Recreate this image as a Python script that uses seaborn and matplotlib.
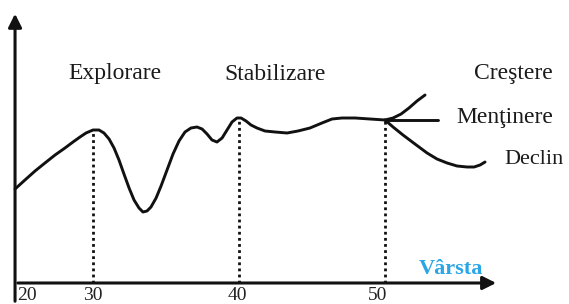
import matplotlib
matplotlib.use("Agg")
import matplotlib.pyplot as plt
import seaborn as sns
import pandas as pd

# career curve (age, level)
age = [24.66, 25.34, 26.03, 26.71, 27.40, 28.08, 28.63, 29.11, 29.52, 30.00,
       30.41, 30.75, 31.10, 31.44, 31.78, 32.12, 32.47, 32.81, 33.15, 33.42,
       33.70, 33.97, 34.32, 34.66, 35.07, 35.48, 35.89, 36.30, 36.71, 37.12,
       37.47, 37.81, 38.15, 38.49, 38.84, 39.18, 39.52, 39.86, 40.14, 40.48,
       40.82, 41.23, 41.78, 42.47, 43.29, 44.04, 44.86, 45.68, 46.37, 47.05,
       47.95, 48.97, 50.00]
level = [9.4, 10.3, 11.2, 12.0, 12.8, 13.5, 14.1, 14.6, 15.0, 15.3,
         15.3, 15.0, 14.4, 13.5, 12.3, 10.9, 9.5, 8.3, 7.5, 7.1,
         7.2, 7.6, 8.5, 9.7, 11.3, 12.9, 14.2, 15.1, 15.5, 15.6,
         15.4, 14.9, 14.3, 14.1, 14.5, 15.3, 16.1, 16.5, 16.5, 16.2,
         15.8, 15.5, 15.2, 15.1, 15.0, 15.2, 15.5, 16.0, 16.4, 16.5,
         16.5, 16.4, 16.3]

# three branches after 50
crestere_age = [50.0, 50.55, 51.10, 51.64, 52.19, 52.74]
crestere_lvl = [16.3, 16.5, 16.9, 17.5, 18.2, 18.8]
mentinere_age = [50.0, 53.6]
mentinere_lvl = [16.3, 16.3]
declin_age = [50.0, 50.55, 51.23, 52.05, 52.88, 53.56, 54.25, 54.93, 55.62,
              56.10, 56.51, 56.85]
declin_lvl = [16.3, 15.6, 14.8, 13.9, 13.0, 12.4, 12.0, 11.7, 11.6,
              11.6, 11.8, 12.1]

# dotted guides (age, level at curve)
guide_age = [30.0, 40.0, 50.0]
guide_top = [15.3, 16.5, 16.3]

tick_pos = [25.5, 30.0, 39.9, 49.5]
tick_lbl = ['20', '30', '40', '50']

stages = ['Explorare', 'Stabilizare', 'Creştere']
stage_x = [31.5, 42.5, 58.8]

sns.set_style("white")
plt.rcParams['font.family'] = ['Liberation Serif', 'DejaVu Serif']

fig = plt.figure(figsize=(5.69, 3.04), dpi=100)
ax = fig.add_axes([0, 0, 1, 1])
ax.set_xlim(23.63, 62.6)
ax.set_ylim(-2.1, 28.3)
ax.axis('off')

line_kw = dict(color='#111111', lw=2.1, sort=False, ax=ax,
               solid_joinstyle='round', solid_capstyle='round')
df = pd.DataFrame({'age': age, 'level': level})
sns.lineplot(data=df, x='age', y='level', **line_kw)
for xs, ys in [(crestere_age, crestere_lvl), (mentinere_age, mentinere_lvl),
               (declin_age, declin_lvl)]:
    sns.lineplot(x=xs, y=ys, **line_kw)

ax.vlines(guide_age, 0, guide_top, colors='#111111', linestyles=(0, (1, 1.2)), lw=2)

# axes with arrow heads
ax.annotate('', xy=(24.66, 27.2), xytext=(24.66, -2.1),
            arrowprops=dict(arrowstyle='-|>', lw=2.2, color='#111111', mutation_scale=20))
ax.annotate('', xy=(57.8, 0), xytext=(24.66, 0),
            arrowprops=dict(arrowstyle='-|>', lw=2.2, color='#111111', mutation_scale=20))

for p, t in zip(tick_pos, tick_lbl):
    ax.text(p, -1.3, t, ha='center', va='center', fontsize=14, color='#222222')

for x, t in zip(stage_x, stages):
    ax.text(x, 20.9, t, ha='center', va='center', fontsize=17, color='#1a1a1a')
ax.text(54.9, 16.6, 'Menţinere', ha='left', va='center', fontsize=17, color='#1a1a1a')
ax.text(58.2, 12.3, 'Declin', ha='left', va='center', fontsize=16, color='#1a1a1a')
ax.text(52.3, 1.4, 'Vârsta', ha='left', va='center', fontsize=16,
        fontweight='bold', color='#2aa6e6')

fig.savefig('out.png', dpi=100)
